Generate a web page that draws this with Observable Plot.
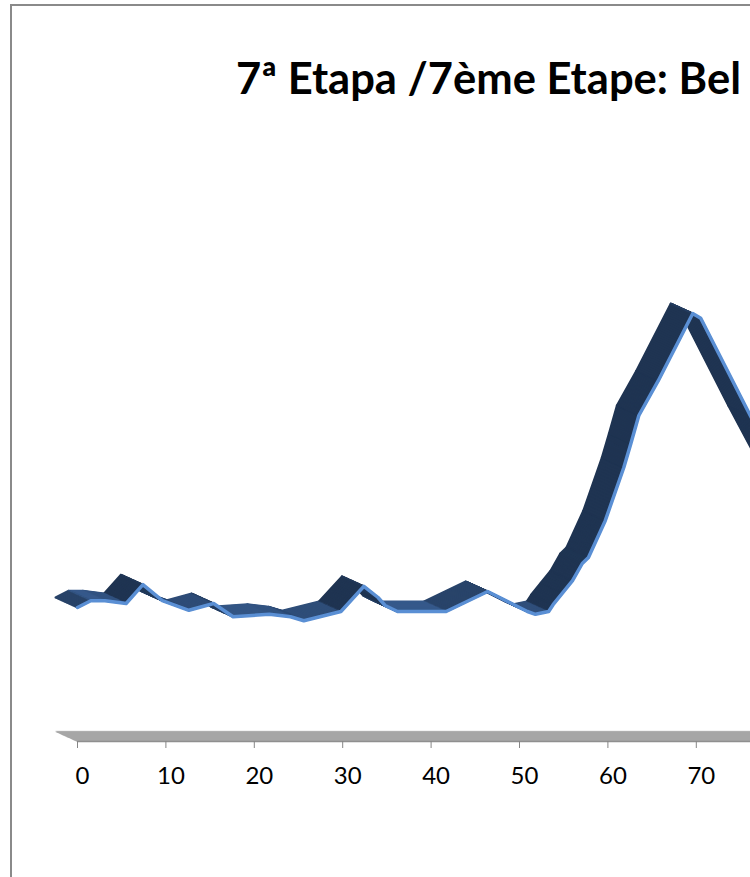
<!DOCTYPE html>
<html>
<head>
<meta charset="utf-8">
<script src="https://cdn.jsdelivr.net/npm/d3@7"></script>
<script src="https://cdn.jsdelivr.net/npm/@observablehq/plot@0.6"></script>
<style>
html, body { margin: 0; padding: 0; background: #fff; overflow: hidden; }
#wrap { position: absolute; left: 0; top: 0; width: 750px; height: 877px; overflow: hidden; background: #fff; }
#title { position: absolute; left: 236px; top: 55px; white-space: nowrap; font-family: Lato, "Open Sans", sans-serif; font-weight: bold; font-size: 43.5px; line-height: 45px; color: #000; }
#chart { position: absolute; left: 0; top: 130px; width: 1240px; height: 747px; }
#frame { position: absolute; left: 10px; top: 4px; width: 2000px; height: 2000px; border-left: 2px solid #8a8a8a; border-top: 2px solid #8a8a8a; pointer-events: none; }
</style>
</head>
<body>
<div id="wrap">
  <div id="title">7ª Etapa /7ème Etape: Bel</div>
  <div id="chart"></div>
  <div id="frame"></div>
</div>
<script>
// distance (km) along the stage
const km = [0, 1.5, 3.1, 5.5, 7.4, 9.6, 12.6, 15.4, 17.6, 21.7, 24.1, 25.6, 29.8, 32.4, 34.0, 34.8, 36.2,
            41.7, 46.4, 50.9, 51.8, 53.3, 53.8, 54.9, 56.0, 57.1, 57.8, 59.7, 61.8, 62.6, 63.5, 65.7,
            69.6, 70.5, 76.1, 81.8];
// elevation (m)
const elev = [335, 352, 352, 345, 392, 352, 328, 345, 312, 318, 312, 302, 325, 388, 360, 340, 325,
              325, 375, 325, 318, 325, 342, 372, 402, 445, 460, 552, 685, 745, 815, 902,
              1070, 1058, 815, 578];
// x-axis tick labels (visible part)
const xTicks = [0, 10, 20, 30, 40, 50, 60, 70];

const xOpts = {domain: [0, 130], range: [77, 77 + 8.84 * 130]};
const yOpts = {domain: [0, 1200], range: [611, 131]};
const xs = Plot.scale({x: xOpts});
const ys = Plot.scale({y: yOpts});

const pts = km.map((k, i) => ({km: k, elev: elev[i]}));
const segs = d3.pairs(pts).map(([a, b]) => {
  const dxp = xs.apply(b.km) - xs.apply(a.km);
  const dyp = ys.apply(b.elev) - ys.apply(a.elev);
  const ang = Math.atan2(Math.abs(dyp), Math.abs(dxp)) * 180 / Math.PI;
  const t = Math.min(1, ang / 45);
  return {x1: a.km, y1: a.elev, x2: b.km, y2: b.elev, shade: d3.interpolateRgb("#36598a", "#1f3452")(t)};
});
const floor = [{a: 0, b: 130, y: 0}];

const DX = -22, DY = -10, N = 22;
const floorMarks = [], ribbonMarks = [];
for (let k = N; k >= 0; k--) {
  const f = k / N;
  const fc = k === N ? "#cfcfcf" : (k === 0 ? "#8f8f8f" : "#a6a6a6");
  floorMarks.push(Plot.link(floor, {x1: "a", x2: "b", y1: "y", y2: "y", stroke: fc, strokeWidth: 1.4, dx: DX * f, dy: DY * f}));
  ribbonMarks.push(Plot.link(segs, {x1: "x1", y1: "y1", x2: "x2", y2: "y2", stroke: "shade",
    strokeWidth: 2, strokeLinecap: "round", dx: DX * f, dy: DY * f}));
}

const chart = Plot.plot({
  width: 1240,
  height: 747,
  marginLeft: 0, marginRight: 0, marginTop: 0, marginBottom: 136,
  x: {...xOpts, axis: null},
  y: {...yOpts, axis: null},
  color: {type: "identity"},
  style: {fontFamily: "Lato, 'Open Sans', sans-serif", color: "#000", background: "transparent", maxWidth: "none", overflow: "visible"},
  marks: [
    ...floorMarks,
    Plot.axisX(xTicks, {tickSize: 7, tickFormat: () => "", stroke: "#868686"}),
    Plot.axisX(xTicks, {tickSize: 0, tickPadding: 25, fontSize: 24, dx: 5, fill: "#000"}),
    ...ribbonMarks,
    Plot.line(pts, {x: "km", y: "elev", stroke: "#5a8fd4", strokeWidth: 3.5, strokeLinejoin: "round", strokeLinecap: "round"})
  ]
});
document.getElementById("chart").appendChild(chart);
</script>
</body>
</html>
